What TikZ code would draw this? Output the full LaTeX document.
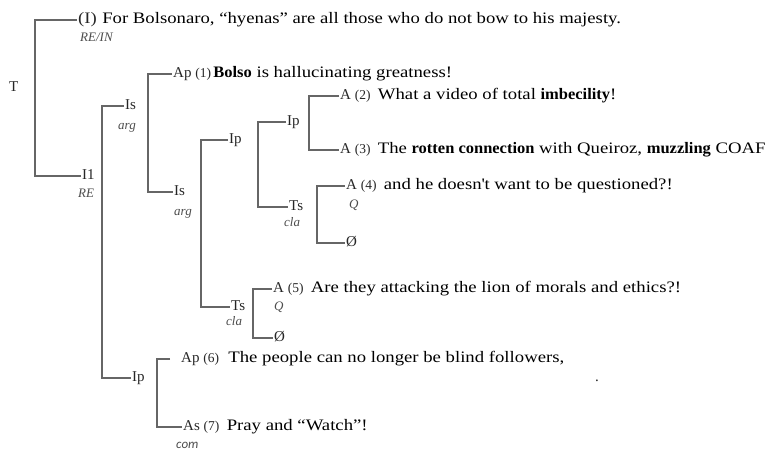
\documentclass[tikz,border=0pt]{standalone}
\usepackage{fontspec}
\setmainfont[FakeStretch=1.17, BoldFeatures={FakeStretch=1.03}]{Liberation Serif}
\newfontfamily\lblfont{Liberation Serif}
\newfontfamily\comfont{Carlito}
\usepackage{tikz}
\usetikzlibrary{positioning}

\newcommand{\nr}[1]{{\fontsize{13.5}{14}\selectfont(#1)}}

\tikzset{
  lbl/.style={anchor=west, inner sep=1pt, text height=9pt, text depth=2pt, text=black!85, font=\lblfont\fontsize{15}{16}\selectfont},
  sub/.style={anchor=west, inner sep=0pt, text height=8pt, text depth=2pt, text=black!70, font=\lblfont\fontsize{13}{14}\selectfont\itshape},
  txt/.style={anchor=base west, inner sep=0pt, font=\fontsize{16}{18}\selectfont},
  brk/.style={draw=black!60, line width=1.5pt}
}

\begin{document}
\begin{tikzpicture}[x=1pt, y=-1pt]
  \useasboundingbox (0,0) rectangle (768,450);
  \coordinate (bT) at (35,0);
  \coordinate (bI1) at (102,0);
  \coordinate (bIs1) at (148,0);
  \coordinate (bIs2) at (201,0);
  \coordinate (bIp1) at (258,0);
  \coordinate (bIp2) at (309,0);
  \coordinate (bTs1) at (317,0);
  \coordinate (bTs2) at (253,0);
  \coordinate (bIp3) at (157,0);

  \node[lbl] (t) at (8,88) {T};
  \node[lbl, font=\fontsize{16}{18}\selectfont] (l0) at (77,20) {(I)};
  \node[txt, right=4pt of l0.base east, anchor=base west] (s0) {For Bolsonaro, “hyenas” are all those who do not bow to his majesty.};
  \node[sub] (rein) at (80,38) {RE/IN};
  \node[lbl] (i1) at (81,176) {I1};
  \node[sub] (re) at (78,194) {RE};

  \node[lbl] (is1) at (124,106) {Is};
  \node[sub] (arg1) at (118,126) {arg};
  \node[lbl] (ap1) at (172,74) {Ap \nr{1}};
  \node[txt, right=1pt of ap1.base east, anchor=base west] (s1) {\textbf{Bolso} is hallucinating greatness!};
  \node[lbl] (is2) at (173,192) {Is};
  \node[sub] (arg2) at (174,212) {arg};

  \node[lbl] (ip1) at (228,140) {Ip};
  \node[lbl] (ip2) at (286,122) {Ip};
  \node[lbl] (a2) at (339,96) {A \nr{2}};
  \node[txt, right=6pt of a2.base east, anchor=base west] (s2) {What a video of total \textbf{imbecility}!};
  \node[lbl] (a3) at (339,150) {A \nr{3}};
  \node[txt, right=6pt of a3.base east, anchor=base west] (s3) {The \textbf{rotten connection} with Queiroz, \textbf{muzzling} COAF};

  \node[lbl] (ts1) at (288,207) {Ts};
  \node[sub] (cla1) at (284,223) {cla};
  \node[lbl] (a4) at (345,186) {A \nr{4}};
  \node[txt, right=6pt of a4.base east, anchor=base west] (s4) {and he doesn\textquotesingle t want to be questioned?!};
  \node[sub] (q1) at (349,205) {Q};
  \node[lbl] (nul1) at (345,243) {Ø};

  \node[lbl] (ts2) at (230,307) {Ts};
  \node[sub] (cla2) at (226,322) {cla};
  \node[lbl] (a5) at (272,289) {A \nr{5}};
  \node[txt, right=6pt of a5.base east, anchor=base west] (s5) {Are they attacking the lion of morals and ethics?!};
  \node[sub] (q2) at (274,307) {Q};
  \node[lbl] (nul2) at (273,338) {Ø};

  \node[lbl] (ip3) at (131,378) {Ip};
  \node[lbl] (ap6) at (180,359) {Ap \nr{6}};
  \node[txt, right=8pt of ap6.base east, anchor=base west] (s6) {The people can no longer be blind followers,};
  \node[lbl] (as7) at (182,427) {As \nr{7}};
  \node[txt, right=6pt of as7.base east, anchor=base west] (s7) {Pray and “Watch”!};
  \node[sub, font=\comfont\fontsize{13}{14}\selectfont\itshape] (com) at (176,445) {com};
  \node[lbl] (dot) at (594,378) {.};

  \draw[brk] (l0.west) -- (l0.west -| bT) |- (i1.west);
  \draw[brk] (is1.west) -- (is1.west -| bI1) |- (ip3.west);
  \draw[brk] (ap1.west) -- (ap1.west -| bIs1) |- (is2.west);
  \draw[brk] (ip1.west) -- (ip1.west -| bIs2) |- (ts2.west);
  \draw[brk] (ip2.west) -- (ip2.west -| bIp1) |- (ts1.west);
  \draw[brk] (a2.west) -- (a2.west -| bIp2) |- (a3.west);
  \draw[brk] (a4.west) -- (a4.west -| bTs1) |- (nul1.west);
  \draw[brk] (a5.west) -- (a5.west -| bTs2) |- (nul2.west);
  \draw[brk, shorten <=10pt] (ap6.west) -- (ap6.west -| bIp3) |- (as7.west);
\end{tikzpicture}
\end{document}
